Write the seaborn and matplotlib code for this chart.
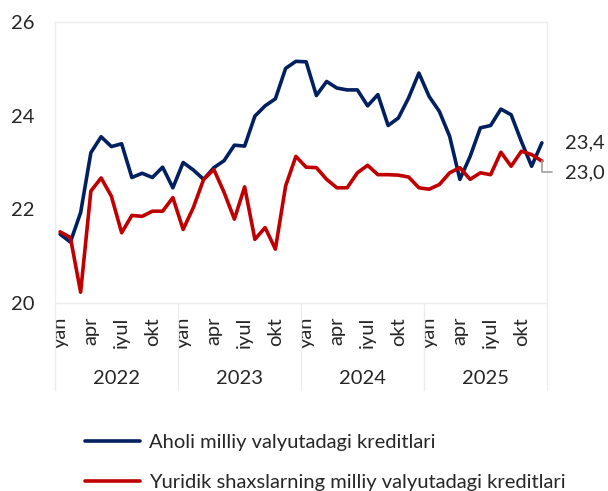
"""
Milliy valyutadagi kreditlar - oylik dinamika (2022-2025)
"""

import matplotlib

matplotlib.use("Agg")
import matplotlib.pyplot as plt
import matplotlib.transforms as mtransforms
import numpy as np
import pandas as pd
import seaborn as sns

# Data (monthly, yan 2022 - dek 2025)
years = ["2022", "2023", "2024", "2025"]
month_labels = ["yan", "apr", "iyul", "okt"]
series_names = [
    "Aholi milliy valyutadagi kreditlari",
    "Yuridik shaxslarning milliy valyutadagi kreditlari",
]

aholi = [
    21.47, 21.30, 21.93, 23.21, 23.55, 23.34, 23.40, 22.68, 22.77, 22.68, 22.90, 22.46,
    23.00, 22.84, 22.64, 22.89, 23.04, 23.37, 23.35, 23.99, 24.21, 24.36, 25.01, 25.16,
    25.15, 24.43, 24.73, 24.59, 24.55, 24.55, 24.21, 24.45, 23.79, 23.95, 24.38, 24.91,
    24.41, 24.09, 23.56, 22.64, 23.13, 23.74, 23.79, 24.14, 24.02, 23.45, 22.92, 23.42,
]
yuridik = [
    21.52, 21.40, 20.23, 22.39, 22.67, 22.28, 21.50, 21.87, 21.85, 21.96, 21.96, 22.25,
    21.57, 22.04, 22.64, 22.85, 22.36, 21.79, 22.48, 21.36, 21.61, 21.15, 22.50, 23.13,
    22.90, 22.89, 22.64, 22.46, 22.46, 22.78, 22.94, 22.74, 22.74, 22.73, 22.69, 22.46,
    22.43, 22.53, 22.78, 22.89, 22.64, 22.78, 22.74, 23.22, 22.92, 23.24, 23.17, 23.03,
]

colors = ["#002060", "#C00000"]
FONT = "Lato"
FS = 14.5


def build_frame():
    n = len(aholi)
    idx = np.arange(n)
    df = pd.concat(
        [
            pd.DataFrame({"idx": idx, "value": aholi, "series": series_names[0]}),
            pd.DataFrame({"idx": idx, "value": yuridik, "series": series_names[1]}),
        ],
        ignore_index=True,
    )
    return df


def main():
    sns.set_style("white")
    plt.rcParams["font.family"] = [FONT, "DejaVu Sans"]

    df = build_frame()
    n = len(aholi)

    W, H = 608, 491
    fig = plt.figure(figsize=(W / 100, H / 100), dpi=100)
    ax = fig.add_axes([55 / W, 1 - 303 / H, 492 / W, 281 / H])

    sns.lineplot(
        data=df,
        x="idx",
        y="value",
        hue="series",
        palette=colors,
        linewidth=2.6,
        ax=ax,
        legend=False,
    )
    for line in ax.get_lines():
        line.set_solid_joinstyle("round")
        line.set_solid_capstyle("round")

    ax.set_xlim(-0.5, n - 0.5)
    ax.set_ylim(20, 26)
    ax.set_yticks([20, 22, 24, 26])
    ax.set_yticklabels(["20", "22", "24", "26"], fontsize=FS)

    ticks = [12 * y + m for y in range(len(years)) for m in (0, 3, 6, 9)]
    ax.set_xticks(ticks)
    ax.set_xticklabels(month_labels * len(years), rotation=90, fontsize=FS)
    ax.tick_params(axis="x", length=0, pad=10)
    ax.tick_params(axis="y", length=0, pad=15)
    ax.set_xlabel("")
    ax.set_ylabel("")

    for sp in ax.spines.values():
        sp.set_color("#EDEDED")
        sp.set_linewidth(1.0)

    # year separators and labels under the axis
    trans = mtransforms.blended_transform_factory(ax.transData, ax.transAxes)
    sep_bottom = (303 - 390) / 281
    for k in range(len(years) + 1):
        xs = 12 * k - 0.5
        ax.plot([xs, xs], [0, sep_bottom], color="#EDEDED", lw=1.0,
                transform=trans, clip_on=False)
    for k, yr in enumerate(years):
        ax.text(12 * k + 5.5, (303 - 378) / 281, yr, transform=trans,
                ha="center", va="center", fontsize=FS)

    # end-of-series value labels
    ax.annotate(
        f"{aholi[-1]:.1f}".replace(".", ","),
        xy=(n - 1, aholi[-1]),
        xytext=(16.5, 0),
        textcoords="offset points",
        ha="left",
        va="center",
        fontsize=FS,
    )
    ax.annotate(
        f"{yuridik[-1]:.1f}".replace(".", ","),
        xy=(n - 1, yuridik[-1]),
        xytext=(16.5, -8.2),
        textcoords="offset points",
        ha="left",
        va="center",
        fontsize=FS,
        arrowprops=dict(
            arrowstyle="-",
            color="#A6A6A6",
            lw=1.3,
            shrinkA=7,
            shrinkB=0,
            connectionstyle="angle,angleA=0,angleB=90,rad=0",
        ),
    )

    handles = ax.get_lines()[:2]
    fig.legend(
        handles,
        series_names,
        loc="upper left",
        bbox_to_anchor=(85 / W, 1 - 434 / H),
        frameon=False,
        fontsize=FS,
        handlelength=2.75,
        handletextpad=0.45,
        labelspacing=1.15,
        borderpad=0,
        borderaxespad=0,
    )

    fig.savefig("out.png", dpi=100)
    plt.close(fig)


if __name__ == "__main__":
    main()
